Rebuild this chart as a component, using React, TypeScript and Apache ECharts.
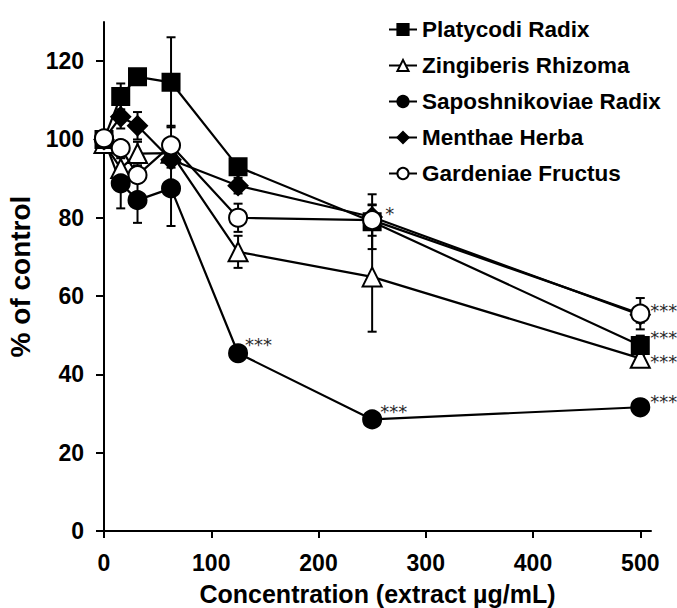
import React, { useEffect, useRef } from "react";
import * as echarts from "echarts";

// Concentrations (extract µg/mL)
const conc = [0, 15.6, 31.25, 62.5, 125, 250, 500];

const seriesNames = [
  "Platycodi Radix",
  "Zingiberis Rhizoma",
  "Saposhnikoviae Radix",
  "Menthae Herba",
  "Gardeniae Fructus",
];

// % of control values
const platycodi = [100, 111, 116, 114.6, 93, 79, 47.4];
const zingiberis = [99, 92.6, 96.4, 96.5, 71.3, 64.9, 44.1];
const saposhnikoviae = [100, 88.8, 84.5, 87.5, 45.4, 28.5, 31.6];
const menthae = [100, 105.8, 103.5, 94.8, 88.2, 80.2, 55.2];
const gardeniae = [100.3, 97.8, 90.9, 98.5, 80, 79.4, 55.5];

// error bars (± values)
const platycodiErr = [0, 3.3, 1.5, 11.5, 1.5, 7, 2.5];
const zingiberisErr = [1, 3, 3, 2, 4.1, 14, 1.5];
const saposhnikoviaeErr = [1, 6.4, 5.8, 9.6, 1, 1, 2];
const menthaeErr = [1, 3, 3.5, 2, 2, 3, 2];
const gardeniaeErr = [1, 2, 2, 5, 3.6, 4, 4];

// significance marks
const platycodiSig = ["", "", "", "", "", "", "***"];
const zingiberisSig = ["", "", "", "", "", "", "***"];
const saposhnikoviaeSig = ["", "", "", "", "***", "***", "***"];
const menthaeSig = ["", "", "", "", "", "", ""];
const gardeniaeSig = ["", "", "", "", "", "*", "***"];

const xTicks = [0, 100, 200, 300, 400, 500];
const yTicks = [0, 20, 40, 60, 80, 100, 120];

const FONT = "'Liberation Sans', Arial, sans-serif";

export default function App() {
  const ref = useRef<HTMLDivElement>(null);

  useEffect(() => {
    if (!ref.current) return;
    const chart = echarts.init(ref.current, undefined, { renderer: "svg" });

    const values = [platycodi, zingiberis, saposhnikoviae, menthae, gardeniae];
    const errs = [platycodiErr, zingiberisErr, saposhnikoviaeErr, menthaeErr, gardeniaeErr];
    const sigs = [platycodiSig, zingiberisSig, saposhnikoviaeSig, menthaeSig, gardeniaeSig];

    // styling per series
    const styles = [
      { symbol: "rect", size: 17, fill: "#000", z: 3 },
      { symbol: "triangle", size: 19, fill: "#fff", z: 2 },
      { symbol: "circle", size: 18, fill: "#000", z: 2 },
      { symbol: "diamond", size: 19, fill: "#000", z: 3 },
      { symbol: "circle", size: 18, fill: "#fff", z: 4 },
    ];

    // label placement (layout only)
    const starOffsets: Record<string, [number, number]> = {
      "0-6": [10, -7.6],
      "1-6": [10, 3.4],
      "2-4": [7, -8.6],
      "2-5": [8, -7.6],
      "2-6": [10, -5.6],
      "4-5": [13, -6.6],
      "4-6": [10, -3.6],
    };

    const lineSeries: any[] = seriesNames.map((name, s) => ({
      name,
      type: "line",
      z: styles[s].z,
      symbol: styles[s].symbol,
      symbolSize: styles[s].size,
      showAllSymbol: true,
      itemStyle: { color: styles[s].fill, borderColor: "#000", borderWidth: 2, opacity: 1 },
      lineStyle: { color: "#000", width: 2.2 },
      emphasis: { disabled: true },
      data: conc.map((x, i) => {
        const sig = sigs[s][i];
        if (!sig) return [x, values[s][i]];
        return {
          value: [x, values[s][i]],
          label: {
            show: true,
            formatter: sig,
            position: "inside",
            align: "left",
            verticalAlign: "middle",
            offset: starOffsets[`${s}-${i}`] || [10, -6],
            fontFamily: "'DejaVu Sans', sans-serif",
            fontSize: 18,
            color: "#2a2a2a",
          },
        };
      }),
    }));

    const errorSeries: any[] = seriesNames.map((name, s) => ({
      type: "custom",
      z: 1,
      silent: true,
      encode: { x: 0, y: 1 },
      renderItem: (params: any, api: any) => {
        const x = api.value(0);
        const y = api.value(1);
        const e = api.value(2);
        if (!e) return null;
        const top = api.coord([x, y + e]);
        const bot = api.coord([x, y - e]);
        const hw = 4.5;
        const style = { stroke: "#000", lineWidth: 2 };
        return {
          type: "group",
          children: [
            { type: "line", shape: { x1: top[0], y1: top[1], x2: bot[0], y2: bot[1] }, style },
            { type: "line", shape: { x1: top[0] - hw, y1: top[1], x2: top[0] + hw, y2: top[1] }, style },
            { type: "line", shape: { x1: bot[0] - hw, y1: bot[1], x2: bot[0] + hw, y2: bot[1] }, style },
          ],
        };
      },
      data: conc.map((x, i) => [x, values[s][i], errs[s][i]]),
    }));

    chart.setOption({
      animation: false,
      backgroundColor: "#fff",
      grid: {
        left: 104,
        right: 26,
        top: 22,
        bottom: 77,
        containLabel: false,
        outerBoundsMode: "none",
      },
      legend: {
        data: seriesNames,
        orient: "vertical",
        left: 383,
        top: 13,
        itemWidth: 28,
        itemHeight: 14,
        itemGap: 13,
        selectedMode: false,
        textStyle: { fontFamily: FONT, fontWeight: "bold", fontSize: 22.5, color: "#000" },
      },
      xAxis: {
        type: "value",
        min: 0,
        max: 510,
        name: "Concentration (extract µg/mL)",
        nameLocation: "middle",
        nameGap: 50,
        nameTextStyle: { fontFamily: FONT, fontWeight: "bold", fontSize: 25, color: "#000" },
        axisLine: { show: true, onZero: false, lineStyle: { color: "#000", width: 2 } },
        axisTick: { show: true, length: 7, lineStyle: { color: "#000", width: 2 }, customValues: xTicks },
        axisLabel: {
          customValues: xTicks,
          fontFamily: FONT,
          fontWeight: "bold",
          fontSize: 23,
          color: "#000",
          margin: 20,
        },
        splitLine: { show: false },
      },
      yAxis: {
        type: "value",
        min: 0,
        max: 130,
        name: "% of control",
        nameLocation: "middle",
        nameRotate: 90,
        nameGap: 68,
        nameTextStyle: { fontFamily: FONT, fontWeight: "bold", fontSize: 28, color: "#000" },
        axisLine: { show: true, onZero: false, lineStyle: { color: "#000", width: 2 } },
        axisTick: { show: true, length: 8, lineStyle: { color: "#000", width: 2 }, customValues: yTicks },
        axisLabel: {
          customValues: yTicks,
          fontFamily: FONT,
          fontWeight: "bold",
          fontSize: 23,
          color: "#000",
          margin: 20,
        },
        splitLine: { show: false },
      },
      series: [...errorSeries, ...lineSeries],
    });

    return () => chart.dispose();
  }, []);

  return (
    <div
      ref={ref}
      style={{ position: "fixed", left: 0, top: 0, width: 677, height: 608, background: "#fff" }}
    />
  );
}
